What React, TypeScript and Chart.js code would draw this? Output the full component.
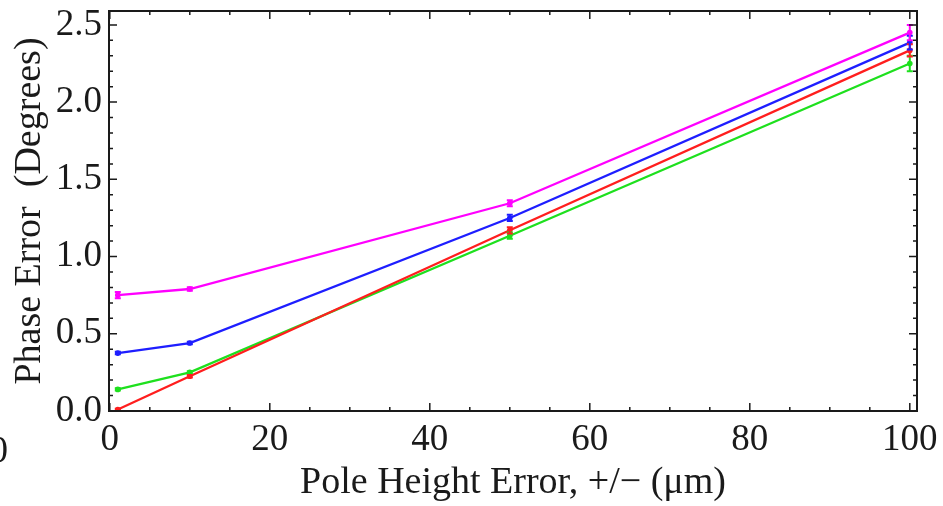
import React, { useEffect, useRef } from "react";
import { Chart, registerables } from "chart.js";

Chart.register(...registerables);

// Pole height error (µm) and resulting phase error (degrees) per series
const heights = [1, 10, 50, 100];
const magentaPhase = [0.75, 0.79, 1.345, 2.45];
const bluePhase = [0.375, 0.44, 1.25, 2.385];
const redPhase = [0.01, 0.225, 1.17, 2.335];
const greenPhase = [0.14, 0.25, 1.135, 2.25];
const magentaErr = [0.02, 0.012, 0.02, 0.05];
const blueErr = [0.008, 0.008, 0.02, 0.045];
const redErr = [0.005, 0.008, 0.02, 0.04];
const greenErr = [0.008, 0.008, 0.02, 0.05];

const xTicks = [0, 20, 40, 60, 80, 100];
const yTicks = [0, 0.5, 1.0, 1.5, 2.0, 2.5];
const xMinorStep = 5;
const yMinorStep = 0.1;

const FONT = "'Liberation Serif', 'Times New Roman', serif";
const INK = "#1a1a1a";

const series = [
  { color: "#ff00ff", values: magentaPhase, err: magentaErr },
  { color: "#1e1eff", values: bluePhase, err: blueErr },
  { color: "#ff1e1e", values: redPhase, err: redErr },
  { color: "#1ee01e", values: greenPhase, err: greenErr },
];

// Vertical error bars with small caps, placed through the chart's scales
const errorBars = {
  id: "errorBars",
  afterDatasetsDraw(chart: any) {
    const { ctx, scales } = chart;
    const xs = scales.x;
    const ys = scales.y;
    ctx.save();
    for (let d = series.length - 1; d >= 0; d--) {
      const s = series[d];
      ctx.strokeStyle = s.color;
      ctx.lineWidth = 2;
      heights.forEach((h, i) => {
        const px = xs.getPixelForValue(h);
        const top = ys.getPixelForValue(s.values[i] + s.err[i]);
        const bot = ys.getPixelForValue(s.values[i] - s.err[i]);
        ctx.beginPath();
        ctx.moveTo(px, top);
        ctx.lineTo(px, bot);
        ctx.moveTo(px - 3, top);
        ctx.lineTo(px + 3, top);
        ctx.moveTo(px - 3, bot);
        ctx.lineTo(px + 3, bot);
        ctx.stroke();
      });
    }
    ctx.restore();
  },
};

// Frame around the plot with inward major and minor ticks on all four sides
const frame = {
  id: "frame",
  afterDraw(chart: any) {
    const { ctx, chartArea, scales } = chart;
    const { left, right, top, bottom } = chartArea;
    const xs = scales.x;
    const ys = scales.y;
    ctx.save();
    ctx.strokeStyle = INK;
    ctx.lineWidth = 1.5;
    const near = (a: number, arr: number[]) => arr.some((t) => Math.abs(t - a) < 1e-6);
    for (let v = 0; v <= 100 + 1e-6; v += xMinorStep) {
      const px = xs.getPixelForValue(v);
      const len = near(v, xTicks) ? 8 : 4;
      ctx.beginPath();
      ctx.moveTo(px, bottom);
      ctx.lineTo(px, bottom - len);
      ctx.moveTo(px, top);
      ctx.lineTo(px, top + len);
      ctx.stroke();
    }
    for (let k = 0; k <= 25; k++) {
      const v = k * yMinorStep;
      const py = ys.getPixelForValue(v);
      const len = near(Math.round(v * 10) / 10, yTicks) ? 8 : 4;
      ctx.beginPath();
      ctx.moveTo(left, py);
      ctx.lineTo(left + len, py);
      ctx.moveTo(right, py);
      ctx.lineTo(right - len, py);
      ctx.stroke();
    }
    ctx.lineWidth = 2;
    ctx.strokeRect(left, top, right - left, bottom - top);
    // neighbouring panel's label, cut off at the left edge
    ctx.fillStyle = INK;
    ctx.font = `37px ${FONT}`;
    ctx.textAlign = "right";
    ctx.textBaseline = "middle";
    ctx.fillText("0", 8, 452);
    ctx.restore();
  },
};

export default function App() {
  const canvasRef = useRef<HTMLCanvasElement | null>(null);

  useEffect(() => {
    const canvas = canvasRef.current;
    if (!canvas) return;
    const chart = new Chart(canvas, {
      type: "line",
      data: {
        datasets: series.map((s) => ({
          data: heights.map((h, i) => ({ x: h, y: s.values[i] })),
          borderColor: s.color,
          backgroundColor: s.color,
          borderWidth: 2.3,
          pointRadius: 2.8,
          pointHoverRadius: 2.8,
          pointBorderWidth: 0,
          tension: 0,
        })),
      },
      plugins: [errorBars, frame],
      options: {
        animation: false,
        responsive: false,
        maintainAspectRatio: false,
        events: [],
        layout: { padding: { top: 11, right: 26, left: 0, bottom: 0 } },
        plugins: { legend: { display: false }, tooltip: { enabled: false } },
        scales: {
          x: {
            type: "linear",
            min: -0.1,
            max: 100.9,
            grid: { display: false, drawTicks: false },
            border: { display: false },
            afterBuildTicks: (scale: any) => {
              scale.ticks = xTicks.map((v) => ({ value: v }));
            },
            afterFit: (scale: any) => {
              scale.height = 95;
              scale.paddingLeft = 0;
              scale.paddingRight = 0;
            },
            ticks: {
              color: INK,
              padding: 7,
              maxRotation: 0,
              autoSkip: false,
              font: { family: FONT, size: 37 },
              callback: (v: any) => String(v),
            },
            title: {
              display: true,
              text: "Pole Height Error, +/\u2212 (\u03bcm)",
              color: INK,
              font: { family: FONT, size: 38 },
              padding: { top: 0, bottom: 0 },
            },
          },
          y: {
            type: "linear",
            min: 0,
            max: 2.59,
            grid: { display: false, drawTicks: false },
            border: { display: false },
            afterBuildTicks: (scale: any) => {
              scale.ticks = yTicks.map((v) => ({ value: v }));
            },
            afterFit: (scale: any) => {
              scale.width = 109;
              scale.paddingTop = 0;
              scale.paddingBottom = 0;
            },
            ticks: {
              color: INK,
              padding: 7,
              autoSkip: false,
              font: { family: FONT, size: 37 },
              callback: (v: any) => Number(v).toFixed(1),
            },
            title: {
              display: true,
              text: "Phase Error  (Degrees)",
              color: INK,
              font: { family: FONT, size: 38 },
              padding: { top: 7, bottom: 0 },
            },
          },
        },
      },
    });
    return () => chart.destroy();
  }, []);

  return (
    <div style={{ position: "fixed", left: 0, top: 0, width: 943, height: 506, background: "#fff" }}>
      <canvas ref={canvasRef} width={943} height={506} style={{ width: 943, height: 506 }} />
    </div>
  );
}
